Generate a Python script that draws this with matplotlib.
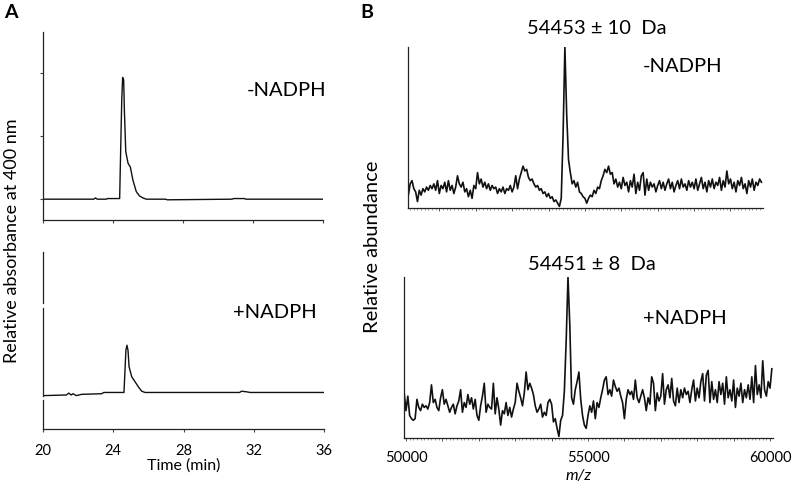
import matplotlib

matplotlib.use("Agg")
import matplotlib.pyplot as plt
import numpy as np
from matplotlib.ticker import MultipleLocator, FuncFormatter, NullFormatter

plt.rcParams["font.family"] = ["Lato", "DejaVu Sans"]

# --- Panel A: HPLC traces (time in min, relative absorbance at 400 nm) ---
minus_time = [20.0, 22.9, 23.0, 23.1, 23.6, 23.7, 24.38, 24.44, 24.50, 24.55,
              24.61, 24.65, 24.73, 24.86, 24.99, 25.14, 25.33, 25.52, 25.71,
              25.90, 27.0, 27.1, 30.8, 30.9, 31.5, 31.6, 36.0]
minus_abs = [0.0, 0.0, 0.02, 0.0, 0.0, 0.01, 0.01, 0.80, 1.57, 1.93,
             1.89, 1.41, 0.75, 0.57, 0.51, 0.30, 0.12, 0.05, 0.02,
             0.0, 0.0, -0.01, 0.0, 0.01, 0.01, 0.0, 0.0]

plus_time = [20.0, 21.33, 21.47, 21.6, 21.71, 21.9, 22.19, 23.33, 23.47, 24.61,
             24.67, 24.72, 24.78, 24.84, 24.90, 25.05, 25.24, 25.43, 25.62,
             25.81, 27.05, 31.2, 31.3, 31.6, 31.8, 36.0]
plus_abs = [-0.01, 0.0, 0.03, 0.0, 0.02, -0.01, 0.01, 0.02, 0.04, 0.04,
            0.40, 0.71, 0.79, 0.71, 0.45, 0.29, 0.21, 0.13, 0.06,
            0.04, 0.04, 0.04, 0.06, 0.05, 0.04, 0.04]

time_ticks = [20, 24, 28, 32, 36]

# --- Panel B: deconvoluted mass spectra, sampled every 50 Da ---
minus_mz_start = 50150
minus_int = [
    8, 15, 17, 12, 10, 4, 11, 8, 12, 10,
    13, 11, 14, 12, 15, 11, 17, 9, 14, 12,
    16, 10, 17, 11, 14, 9, 13, 20, 15, 13,
    16, 10, 12, 7, 11, 6, 14, 12, 22, 15,
    18, 13, 16, 12, 15, 11, 14, 12, 13, 9,
    12, 10, 13, 9, 12, 11, 14, 10, 13, 20,
    12, 18, 22, 26, 23, 24, 19, 17, 18, 15,
    13, 14, 11, 12, 9, 10, 7, 9, 6, 7,
    4, 5, 3, 1, 6, 45, 100, 58, 30, 22,
    15, 17, 13, 16, 10, 9, 7, 6, 3, 6,
    8, 7, 11, 9, 13, 12, 17, 20, 24, 22,
    26, 21, 22, 15, 18, 13, 16, 12, 19, 14,
    16, 10, 17, 13, 21, 9, 16, 11, 20, 22,
    8, 18, 11, 16, 13, 15, 10, 14, 17, 12,
    16, 11, 15, 18, 12, 16, 10, 14, 17, 12,
    18, 13, 15, 11, 17, 13, 16, 12, 18, 11,
    15, 19, 12, 16, 10, 17, 13, 18, 12, 16,
    14, 19, 11, 17, 13, 23, 15, 18, 12, 16,
    10, 17, 14, 19, 12, 15, 9, 17, 13, 18,
    11, 16, 14, 18, 16,
]

plus_mz_start = 49950
plus_int = [
    28, 17, 26, 14, 12, 11, 12, 24, 19, 17,
    21, 19, 20, 18, 22, 33, 22, 24, 19, 17,
    25, 30, 21, 24, 20, 16, 19, 21, 15, 20,
    23, 30, 16, 22, 19, 27, 21, 25, 18, 24,
    14, 11, 20, 26, 34, 16, 21, 19, 18, 34,
    15, 25, 18, 8, 17, 15, 22, 14, 19, 13,
    18, 22, 34, 29, 25, 20, 28, 41, 30, 34,
    31, 27, 20, 16, 18, 21, 13, 16, 14, 22,
    24, 21, 10, 12, 6, 1, 11, 14, 29, 60,
    100, 70, 25, 21, 30, 35, 41, 24, 14, 8,
    6, 14, 20, 16, 23, 12, 22, 19, 25, 30,
    36, 38, 27, 30, 26, 36, 32, 29, 31, 26,
    22, 12, 24, 30, 27, 29, 24, 36, 25, 22,
    26, 30, 25, 17, 25, 21, 38, 34, 17, 28,
    23, 26, 40, 21, 30, 33, 25, 37, 23, 20,
    31, 22, 30, 25, 31, 27, 29, 22, 30, 36,
    23, 31, 25, 35, 40, 23, 39, 42, 22, 35,
    24, 30, 22, 35, 27, 34, 21, 38, 25, 30,
    23, 36, 19, 31, 26, 34, 22, 30, 25, 33,
    24, 38, 22, 45, 27, 33, 25, 48, 30, 26,
    35, 31, 43,
]
mz_step = 50
mz_labels = [50000, 55000, 60000]

W, H = 796, 493
LINE = "#111111"


def box(x0, y0, x1, y1):
    """pixel box (top-left origin) -> figure fraction rect"""
    return [x0 / W, 1 - y1 / H, (x1 - x0) / W, (y1 - y0) / H]


def ftext(fig, x, y, s, **kw):
    fig.text(x / W, 1 - y / H, s, ha=kw.pop("ha", "center"),
             va=kw.pop("va", "center"), **kw)


def style_axes(ax):
    for side in ("top", "right"):
        ax.spines[side].set_visible(False)
    for side in ("left", "bottom"):
        ax.spines[side].set_linewidth(0.9)
        ax.spines[side].set_color("#222222")


fig = plt.figure(figsize=(W / 100, H / 100), dpi=100)

# Panel A top (-NADPH)
ax_a1 = fig.add_axes(box(43, 32, 323, 220))
ax_a1.plot(minus_time, minus_abs, color=LINE, lw=1.0)
ax_a1.set_xlim(20, 36)
ax_a1.set_ylim(-0.33, 2.65)
ax_a1.set_xticks(time_ticks)
ax_a1.set_xticklabels([])
ax_a1.set_yticks([0, 1, 2])
ax_a1.set_yticklabels([])
style_axes(ax_a1)
ax_a1.tick_params(direction="out", length=2.5, width=0.8, color="#444444")

# Panel A bottom (+NADPH)
ax_a2 = fig.add_axes(box(43, 252, 324, 429))
ax_a2.plot(plus_time, plus_abs, color=LINE, lw=1.0)
ax_a2.set_xlim(20, 36)
ax_a2.set_ylim(-0.54, 2.27)
ax_a2.set_xticks(time_ticks)
ax_a2.set_yticks([])
style_axes(ax_a2)
ax_a2.spines["left"].set_visible(False)
# broken left axis line as in the original
for y0, y1 in [(1.46, 2.27), (-0.02, 1.38), (-0.54, -0.08)]:
    ax_a2.plot([20, 20], [y0, y1], color="#222222", lw=0.9, clip_on=False)
ax_a2.tick_params(direction="out", length=2.5, width=0.8, color="#444444",
                  labelsize=10.5, pad=8)

# Panel B spectra
minus_mz = minus_mz_start + mz_step * np.arange(len(minus_int))
plus_mz = plus_mz_start + mz_step * np.arange(len(plus_int))

ax_b1 = fig.add_axes(box(408, 47, 763, 208))
ax_b1.plot(minus_mz, minus_int, color=LINE, lw=1.2)
ax_b1.set_xlim(50140, 59893)
ax_b1.set_ylim(0, 100)

ax_b2 = fig.add_axes(box(404, 277, 773, 438))
ax_b2.plot(plus_mz, plus_int, color=LINE, lw=1.2)
ax_b2.set_xlim(49945, 60082)
ax_b2.set_ylim(0, 100)

for ax in (ax_b1, ax_b2):
    style_axes(ax)
    ax.set_yticks([])
    ax.xaxis.set_major_locator(MultipleLocator(1000))
    ax.xaxis.set_minor_locator(MultipleLocator(100))
    ax.tick_params(axis="x", which="major", direction="out", length=2.5,
                   width=0.7, color="#555555", labelsize=10.5, pad=7)
    ax.tick_params(axis="x", which="minor", direction="out", length=1.3,
                   width=0.5, color="#777777")
ax_b1.xaxis.set_major_formatter(NullFormatter())
ax_b2.xaxis.set_major_formatter(
    FuncFormatter(lambda v, p: f"{int(round(v))}" if int(round(v)) in mz_labels else ""))

# Texts
ftext(fig, 11, 13, "A", fontsize=14, fontweight="bold")
ftext(fig, 367, 13, "B", fontsize=14, fontweight="bold")
ftext(fig, 12, 241, "Relative absorbance at 400 nm", fontsize=13, rotation=90)
ftext(fig, 372, 247, "Relative abundance", fontsize=14.5, rotation=90)
ftext(fig, 184, 466, "Time (min)", fontsize=11.5)
ftext(fig, 579, 476, "m/z", fontsize=11.5, style="italic")

ftext(fig, 247, 90, "-NADPH", fontsize=14.5, ha="left")
ftext(fig, 233, 312, "+NADPH", fontsize=14.5, ha="left")
ftext(fig, 643, 67, "-NADPH", fontsize=14.5, ha="left")
ftext(fig, 643, 319, "+NADPH", fontsize=14.5, ha="left")
ftext(fig, 597, 28, "54453 \u00b1 10  Da", fontsize=14.5)
ftext(fig, 592, 264, "54451 \u00b1 8  Da", fontsize=14.5)

fig.savefig("out.png", dpi=100)
